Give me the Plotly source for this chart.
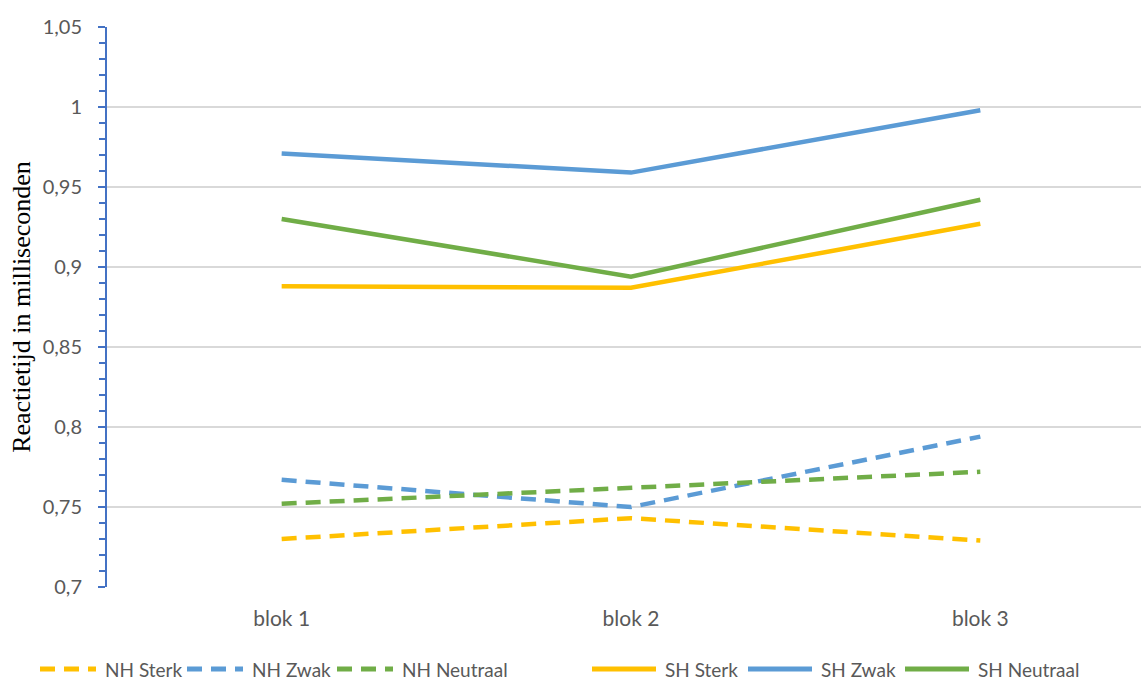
import plotly.graph_objects as go

# Reaction times per block for each condition
blocks = ["blok 1", "blok 2", "blok 3"]

nh_sterk = [0.730, 0.743, 0.729]
nh_zwak = [0.767, 0.750, 0.794]
nh_neutraal = [0.752, 0.762, 0.772]
sh_sterk = [0.888, 0.887, 0.927]
sh_zwak = [0.971, 0.959, 0.998]
sh_neutraal = [0.930, 0.894, 0.942]

y_ticks = [0.7, 0.75, 0.8, 0.85, 0.9, 0.95, 1.0, 1.05]
y_tick_labels = ["0,7", "0,75", "0,8", "0,85", "0,9", "0,95", "1", "1,05"]

YELLOW = "#FFC000"
BLUE = "#5B9BD5"
GREEN = "#70AD47"
DASH = "15px,9px"

series = [
    ("NH Sterk", nh_sterk, YELLOW, DASH),
    ("NH Zwak", nh_zwak, BLUE, DASH),
    ("NH Neutraal", nh_neutraal, GREEN, DASH),
    ("SH Sterk", sh_sterk, YELLOW, "solid"),
    ("SH Zwak", sh_zwak, BLUE, "solid"),
    ("SH Neutraal", sh_neutraal, GREEN, "solid"),
]

W, H = 1142, 681
ML, MR, MT, MB = 107, 1, 27, 94
PW, PH = W - ML - MR, H - MT - MB

fig = go.Figure()
for name, values, color, dash in series:
    fig.add_trace(go.Scatter(
        x=blocks, y=values, name=name, mode="lines",
        line=dict(color=color, width=4.5, dash=dash),
        showlegend=False,
    ))

# Legend row under the chart: long line samples followed by the series names
legend_starts = [40, 187, 337, 592, 748, 905]   # pixel x where each entry begins
legend_sample_len = {True: 56, False: 64}       # dashed / solid sample length
legend_y_px = 669


def px_x(p):
    return (p - ML) / PW


def px_y(p):
    return (H - MB - p) / PH


for (name, _, color, dash), x0 in zip(series, legend_starts):
    sample = legend_sample_len[dash != "solid"]
    fig.add_shape(
        type="line", xref="paper", yref="paper",
        x0=px_x(x0), x1=px_x(x0 + sample),
        y0=px_y(legend_y_px), y1=px_y(legend_y_px),
        line=dict(color=color, width=5, dash=dash),
    )
    fig.add_annotation(
        xref="paper", yref="paper", x=px_x(x0 + sample + 7), y=px_y(legend_y_px),
        xanchor="left", yanchor="middle", showarrow=False, text=name,
        font=dict(family="Lato", size=19, color="#595959"),
    )

fig.update_layout(
    width=W, height=H,
    margin=dict(l=ML, r=MR, t=MT, b=MB, autoexpand=False),
    paper_bgcolor="white", plot_bgcolor="white",
    font=dict(family="Lato", size=20, color="#595959"),
    showlegend=False,
)

fig.update_xaxes(
    type="category", range=[-0.5, 2.46],
    showgrid=False, showline=False, zeroline=False,
    ticks="", ticklabelstandoff=17,
    tickfont=dict(family="Lato", size=21, color="#595959"),
)

fig.update_yaxes(
    range=[0.7, 1.05],
    tickvals=y_ticks, ticktext=y_tick_labels,
    showgrid=True, gridcolor="#D9D9D9", gridwidth=1.5,
    zeroline=False,
    showline=True, linecolor="#4472C4", linewidth=2,
    ticks="outside", ticklen=7, tickwidth=2, tickcolor="#4472C4",
    minor=dict(dtick=0.01, ticks="outside", ticklen=6, tickwidth=1.5,
               tickcolor="#4472C4", showgrid=False),
    ticklabelstandoff=12,
    tickfont=dict(family="Lato", size=20, color="#595959"),
    title=dict(text="Reactietijd in milliseconden",
               font=dict(family="Liberation Serif", size=26, color="black"),
               standoff=5),
)

fig.write_html("out.html")
